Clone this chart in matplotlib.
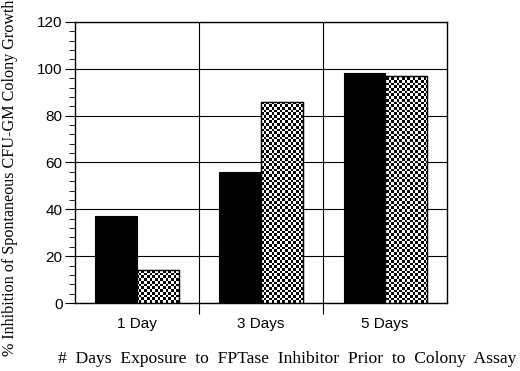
import matplotlib
matplotlib.use('Agg')
import matplotlib.pyplot as plt
import numpy as np

# data
categories = ['1 Day', '3 Days', '5 Days']
solid_vals = [37.2, 56.1, 98.2]
checker_vals = [14.1, 86.0, 97.0]
y_ticks = [0, 20, 40, 60, 80, 100, 120]

fig = plt.figure(figsize=(5.2, 3.71), dpi=100)
ax = fig.add_axes([0.144, 0.183, 0.716, 0.758])

x = np.arange(len(categories))
w = 0.335
ax.bar(x - w / 2, solid_vals, width=w, color='black', edgecolor='black', linewidth=0.8, zorder=3)
checker_bars = ax.bar(x + w / 2, checker_vals, width=w, color='white', edgecolor='black',
                      linewidth=0.8, zorder=3)

# fine checkerboard fill, clipped to each patterned bar
nx, ny = 140, 105
board = (np.add.outer(np.arange(ny), np.arange(nx)) % 2).astype(float)
for bar in checker_bars:
    im = ax.imshow(board, cmap='gray', vmin=0, vmax=1, interpolation='nearest',
                   extent=[0, 1, 0, 1], transform=ax.transAxes, aspect='auto', zorder=3.5)
    im.set_clip_path(bar)
    ax.add_patch(plt.Rectangle(bar.get_xy(), bar.get_width(), bar.get_height(),
                               fill=False, edgecolor='black', linewidth=1.0, zorder=4))

ax.set_xlim(-0.5, 2.5)
ax.set_ylim(0, 120)

# grid: horizontal at major y ticks, vertical at category boundaries
ax.set_yticks(y_ticks)
ax.set_yticks(np.arange(0, 121, 4), minor=True)
ax.set_xticks([0.5, 1.5])
ax.set_xticklabels([])
ax.grid(True, axis='y', color='black', linewidth=0.8, zorder=0)
for b in [0.5, 1.5]:
    ax.axvline(b, color='black', linewidth=0.8, zorder=0)
ax.tick_params(axis='x', which='major', length=8, width=0.8, direction='out')
ax.tick_params(axis='y', which='major', length=7, width=0.8, direction='out', pad=2)
ax.tick_params(axis='y', which='minor', length=4, width=0.6, direction='out')

for tl in ax.get_yticklabels():
    tl.set_fontfamily('Liberation Sans')
    tl.set_fontsize(11)

for i, c in enumerate(categories):
    ax.text(i, -6, c, ha='center', va='top', fontsize=11, family='Liberation Sans')

for s in ax.spines.values():
    s.set_linewidth(1.0)

fig.text(0.02, 0.52, '% Inhibition of Spontaneous CFU-GM Colony Growth', rotation=90,
         ha='center', va='center', fontsize=11.6, family='Liberation Serif')
fig.text(0.553, 0.032, '#  Days  Exposure  to  FPTase  Inhibitor  Prior  to  Colony  Assay',
         ha='center', va='center', fontsize=12.6, family='Liberation Serif')

fig.savefig('out.png', dpi=100)
